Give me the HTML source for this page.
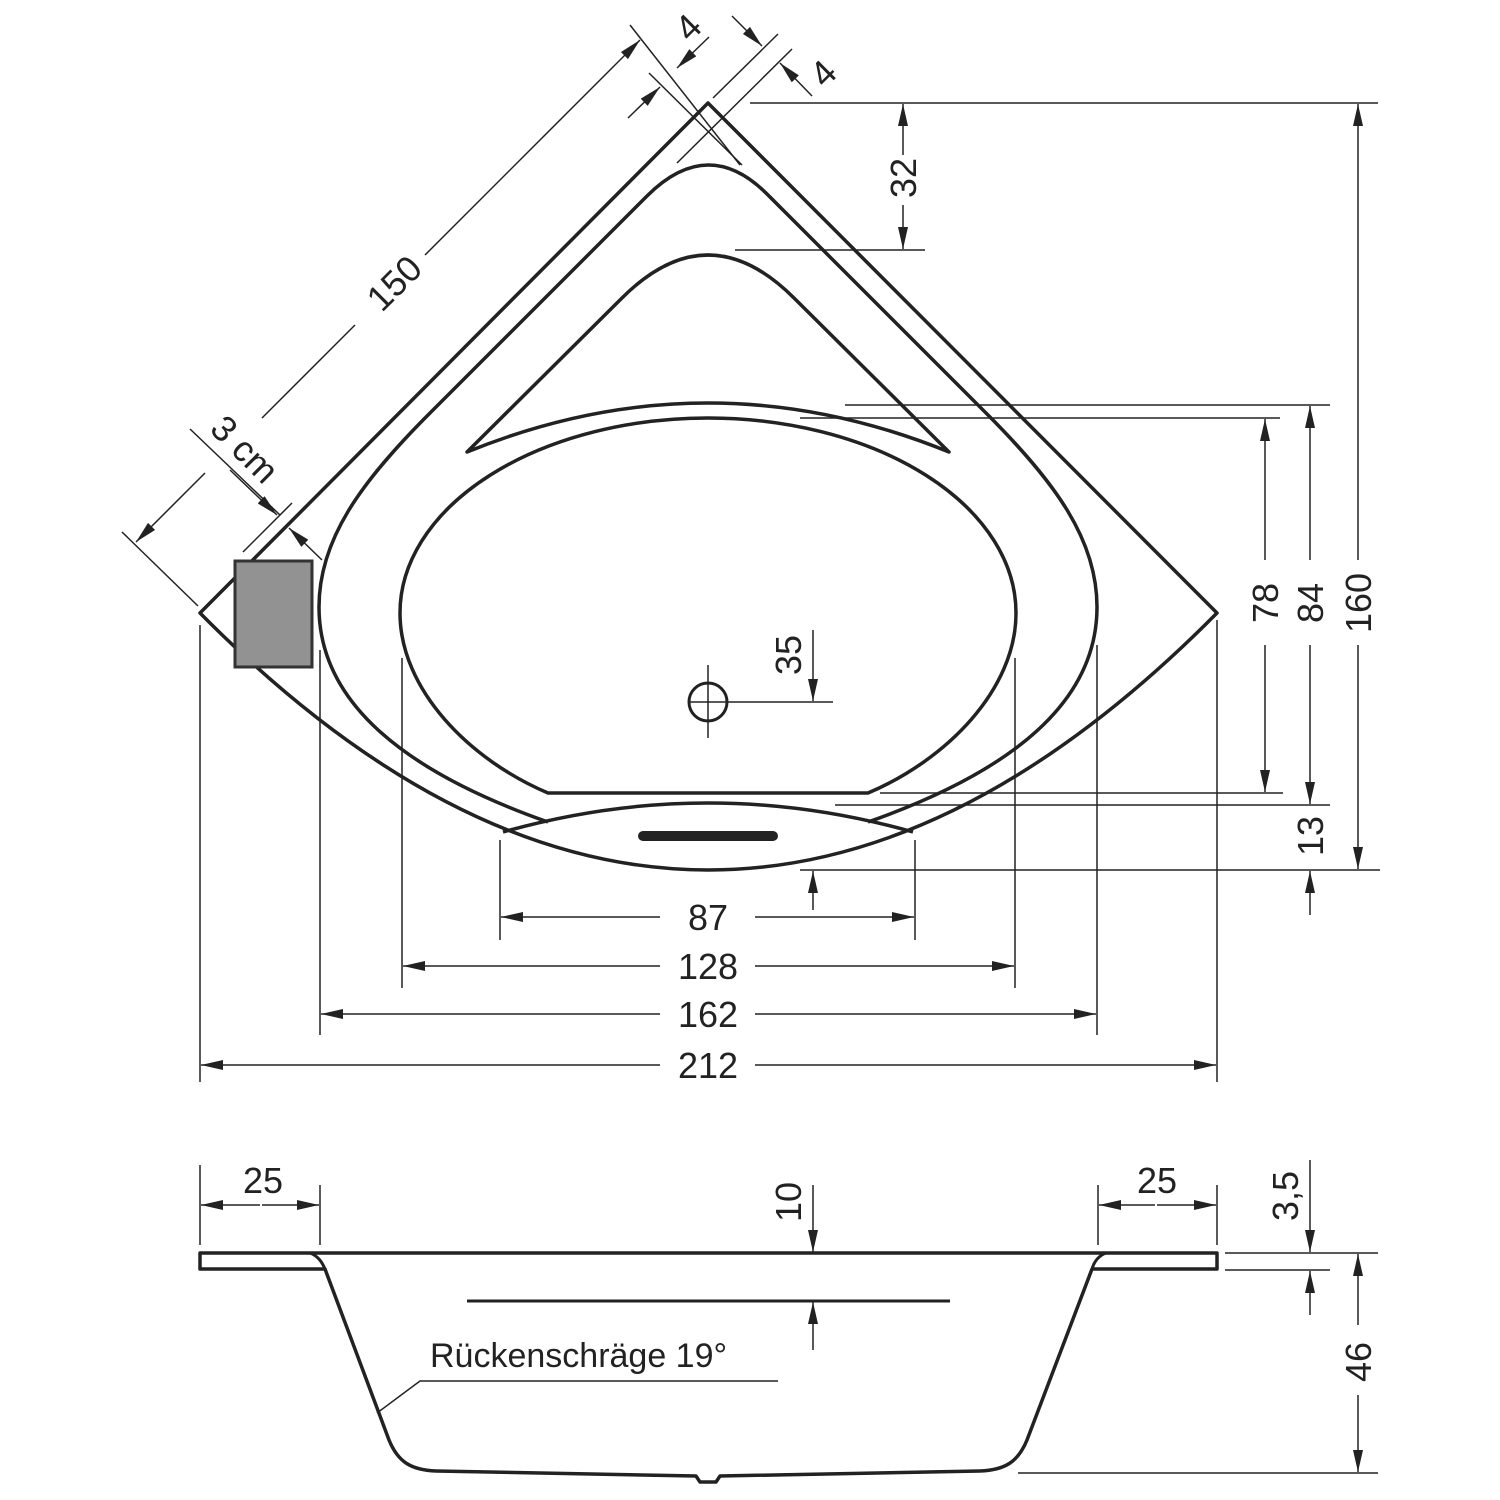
<!DOCTYPE html>
<html><head><style>html,body{margin:0;padding:0;background:#fff}svg{display:block}</style></head>
<body>
<svg width="1500" height="1500" viewBox="0 0 1500 1500" xmlns="http://www.w3.org/2000/svg">
<defs>
<marker id="a" viewBox="0 0 22 10" refX="22" refY="5" markerWidth="22" markerHeight="10" markerUnits="userSpaceOnUse" orient="auto">
<path d="M0,0 L22,5 L0,10 z" fill="#222"/></marker>
</defs>
<g fill="none" stroke="#222" stroke-width="3.5" stroke-linejoin="round">
<path d="M708,103 L200,613 Q708,1127 1217,613 Z"/>
<path d="M548,822 C400,770 319,700 319,607 C319,540 360,483 430,413 L647,196 Q709,134 769,196 L986,413 C1056,483 1097,540 1097,607 C1097,700 1016,770 868,822"/>
<path d="M503,832 Q708,774 913,832"/>
<path d="M467,452 L622,298 Q708,212 794,298 L949,452 Q708,354 467,452 Z"/>
<path d="M548,793 C470,760 400,690 400,613 A308,195 0 0 1 1016,613 C1016,690 946,760 868,793 Z"/>
<circle cx="708" cy="702" r="19" stroke-width="3"/>
</g>
<rect x="235" y="561" width="77" height="106" fill="#929292" stroke="#333" stroke-width="3"/>
<line x1="643" y1="836" x2="773" y2="836" stroke="#222" stroke-width="10" stroke-linecap="round"/>
<g fill="none" stroke="#222" stroke-width="3.5" stroke-linejoin="round">
<path d="M200,1253 L1217,1253 L1217,1269 L1092,1269 L1027,1440 C1018,1462 1005,1470 980,1471 L720,1476 L716,1482 L700,1482 L696,1476 L436,1471 C411,1470 398,1462 389,1440 L325,1269 L200,1269 Z"/>
<path d="M310,1253 C318,1256 322,1262 325,1269 M1106,1253 C1098,1256 1094,1262 1092,1269" stroke-width="3"/>
<line x1="467" y1="1301" x2="950" y2="1301" stroke-width="3"/>
</g>
<g stroke="#222" stroke-width="1.5" fill="none">
<line x1="750" y1="103" x2="1378" y2="103"/>
<line x1="735" y1="250" x2="925" y2="250"/>
<line x1="800" y1="870" x2="1380" y2="870"/>
<line x1="845" y1="405" x2="1330" y2="405"/>
<line x1="835" y1="805" x2="1330" y2="805"/>
<line x1="800" y1="418" x2="1280" y2="418"/>
<line x1="880" y1="793" x2="1283" y2="793"/>
<line x1="688" y1="702" x2="833" y2="702"/>
<line x1="708" y1="665" x2="708" y2="738"/>
<line x1="500" y1="840" x2="500" y2="940"/><line x1="915" y1="840" x2="915" y2="940"/>
<line x1="402" y1="658" x2="402" y2="988"/><line x1="1015" y1="658" x2="1015" y2="988"/>
<line x1="320" y1="650" x2="320" y2="1035"/><line x1="1097" y1="645" x2="1097" y2="1035"/>
<line x1="200" y1="625" x2="200" y2="1082"/><line x1="1217" y1="620" x2="1217" y2="1082"/>
<line x1="630" y1="25" x2="740" y2="165"/>
<line x1="649" y1="73" x2="742" y2="165"/>
<line x1="713" y1="98" x2="778" y2="34"/>
<line x1="677" y1="163" x2="792" y2="49"/>
<line x1="122" y1="532" x2="198" y2="606"/>
<line x1="190" y1="429" x2="280" y2="515"/>
<line x1="243" y1="552" x2="292" y2="503"/>
<line x1="200" y1="1165" x2="200" y2="1245"/><line x1="320" y1="1185" x2="320" y2="1245"/>
<line x1="1098" y1="1185" x2="1098" y2="1245"/><line x1="1217" y1="1185" x2="1217" y2="1245"/>
<line x1="1225" y1="1253" x2="1378" y2="1253"/>
<line x1="1225" y1="1270" x2="1330" y2="1270"/>
<line x1="1018" y1="1473" x2="1378" y2="1473"/>
<polyline points="377,1413 420,1381 778,1381"/>
</g>
<g stroke="#222" stroke-width="1.5" marker-end="url(#a)">
<line x1="903" y1="155" x2="903" y2="104"/><line x1="903" y1="205" x2="903" y2="249"/>
<line x1="1358" y1="560" x2="1358" y2="104"/><line x1="1358" y1="645" x2="1358" y2="869"/>
<line x1="1310" y1="560" x2="1310" y2="406"/><line x1="1310" y1="645" x2="1310" y2="804"/>
<line x1="1265" y1="560" x2="1265" y2="419"/><line x1="1265" y1="645" x2="1265" y2="792"/>
<line x1="1310" y1="915" x2="1310" y2="871"/>
<line x1="813" y1="630" x2="813" y2="701"/>
<line x1="813" y1="910" x2="813" y2="871"/>
<line x1="660" y1="917" x2="501" y2="917"/><line x1="755" y1="917" x2="914" y2="917"/>
<line x1="660" y1="966" x2="403" y2="966"/><line x1="755" y1="966" x2="1014" y2="966"/>
<line x1="660" y1="1014" x2="321" y2="1014"/><line x1="755" y1="1014" x2="1096" y2="1014"/>
<line x1="660" y1="1065" x2="201" y2="1065"/><line x1="755" y1="1065" x2="1216" y2="1065"/>
<line x1="425" y1="255" x2="640" y2="40"/>
<line x1="205" y1="473" x2="136" y2="542"/>
<line x1="628" y1="118" x2="660" y2="87"/>
<line x1="709" y1="37" x2="677" y2="68"/>
<line x1="732" y1="16" x2="762" y2="46"/>
<line x1="812" y1="96" x2="780" y2="63"/>
<line x1="230" y1="470" x2="277" y2="515"/>
<line x1="322" y1="560" x2="289" y2="528"/>
<line x1="260" y1="1205" x2="201" y2="1205"/><line x1="262" y1="1205" x2="319" y2="1205"/>
<line x1="1155" y1="1205" x2="1099" y2="1205"/><line x1="1157" y1="1205" x2="1216" y2="1205"/>
<line x1="813" y1="1185" x2="813" y2="1252"/>
<line x1="813" y1="1350" x2="813" y2="1302"/>
<line x1="1310" y1="1160" x2="1310" y2="1252"/>
<line x1="1310" y1="1315" x2="1310" y2="1271"/>
<line x1="1358" y1="1325" x2="1358" y2="1254"/><line x1="1358" y1="1395" x2="1358" y2="1472"/>
</g>
<line x1="355" y1="325" x2="262" y2="418" stroke="#222" stroke-width="1.5"/>
<g font-family="Liberation Sans, sans-serif" font-size="36" fill="#222" text-anchor="middle">
<text x="708" y="930">87</text>
<text x="708" y="979">128</text>
<text x="708" y="1027">162</text>
<text x="708" y="1078">212</text>
<text transform="translate(916,178) rotate(-90)">32</text>
<text transform="translate(1371,603) rotate(-90)">160</text>
<text transform="translate(1323,603) rotate(-90)">84</text>
<text transform="translate(1278,603) rotate(-90)">78</text>
<text transform="translate(1323,836) rotate(-90)">13</text>
<text transform="translate(801,655) rotate(-90)">35</text>
<text transform="translate(403,292) rotate(-45)">150</text>
<text transform="translate(697,36) rotate(-45)">4</text>
<text transform="translate(832,82) rotate(-45)">4</text>
<text transform="translate(236,458) rotate(45)">3 cm</text>
<text x="263" y="1193">25</text>
<text x="1157" y="1193">25</text>
<text transform="translate(801,1202) rotate(-90)">10</text>
<text transform="translate(1298,1196) rotate(-90)">3,5</text>
<text transform="translate(1371,1362) rotate(-90)">46</text>
<text x="430" y="1367" text-anchor="start" font-size="34">Rückenschräge 19°</text>
</g>
</svg>
</body></html>
